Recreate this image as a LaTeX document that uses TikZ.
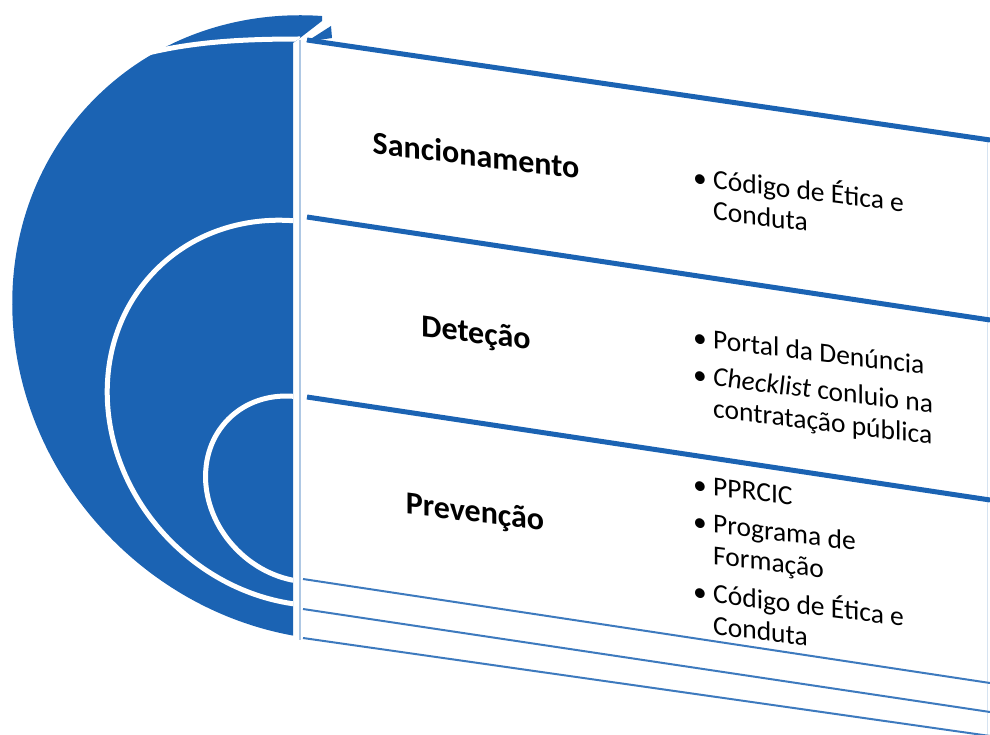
\documentclass[tikz,border=0pt]{standalone}
\usepackage{fontspec}
\setmainfont{Carlito}
\usepackage{tikz}
\usetikzlibrary{calc}
\tikzset{>=latex}
\definecolor{ringblue}{RGB}{27,99,179}
\newcommand{\ringhead}{\fontsize{32}{38}\selectfont\bfseries}
\newcommand{\ringitem}{\fontsize{27.5}{31.5}\selectfont}
\newcommand{\bul}{\makebox[20pt][l]{\textbullet}}
\tikzstyle{ringfill}=[fill=ringblue]
\tikzstyle{ringgap}=[draw=white,line width=5pt]
\tikzstyle{band}=[draw=ringblue,line width=5pt]
\tikzstyle{bandl}=[draw=ringblue!85,line width=2pt]
\tikzstyle{heading}=[font=\ringhead,inner sep=0pt,yslant=-0.123]
\tikzstyle{items}=[font=\ringitem,inner sep=0pt,anchor=base west,yslant=-0.123]

\begin{document}
\begin{tikzpicture}[x=1pt,y=-1pt]
	\def \xr {990};
	\def \xb {293};
	\useasboundingbox (0,0) rectangle (990,735);

	% the three rings, cut at the divider
	\begin{scope}
		\clip (0,0) -- (322,0) -- (322,21) -- (300,38) -- (\xb,43) -- (\xb,735) -- (0,735) -- cycle;
		\fill[ringfill,rotate around={-45:(325,328)}] (325,328) ellipse [x radius=325, y radius=300];
		\draw[ringgap] (140,55) .. controls (190,42) and (240,39) .. (300,39);
		\draw[ringgap,rotate around={-45:(300,413)}] (300,413) ellipse [x radius=203, y radius=182];
		\draw[ringgap,rotate around={-45:(298.5,489)}] (298.5,489) ellipse [x radius=99, y radius=86.5];
	\end{scope}
	\fill[ringfill] (306,42) -- (331,26) -- (332,38) -- cycle;

	% dividers
	\coordinate (dtop) at (300,40);
	\coordinate (dbot) at (300,640);
	\draw[ringblue!35,line width=1.2pt] (dtop) -- (dbot);
	\coordinate (etop) at (987,139);
	\coordinate (ebot) at (987,735);
	\draw[ringblue!18,line width=1pt] (etop) -- (ebot);

	\foreach \n/\ya/\yb in {1/40/140, 2/217/320, 3/397/500} {
		\coordinate (a\n) at (307,\ya);
		\coordinate (b\n) at (\xr,\yb);
		\draw[band] (a\n) -- (b\n);
	};
	\foreach \n/\ya/\yb in {4/579/683, 5/609/712, 6/638/736} {
		\coordinate (a\n) at (303,\ya);
		\coordinate (b\n) at (\xr,\yb);
		\draw[bandl] (a\n) -- (b\n);
	};

	\node[heading] (sanc) at (476,155) {Sancionamento};
	\node[heading] (dete) at (476,335) {Deteção};
	\node[heading] (prev) at (475,514) {Prevenção};

	\node[items] (isanc) at (693,186) {\begin{tabular}[t]{@{}l@{}l@{}}
		\bul & Código de Ética e\\
		     & Conduta
	\end{tabular}};
	\node[items] (idete) at (693,346) {\begin{tabular}[t]{@{}l@{}l@{}}
		\bul & Portal da Denúncia\\[6pt]
		\bul & \textit{Checklist} conluio na\\
		     & contratação pública
	\end{tabular}};
	\node[items] (iprev) at (693,493) {\begin{tabular}[t]{@{}l@{}l@{}}
		\bul & PPRCIC\\[6pt]
		\bul & Programa de\\
		     & Formação\\[6pt]
		\bul & Código de Ética e\\
		     & Conduta
	\end{tabular}};
\end{tikzpicture}
\end{document}
